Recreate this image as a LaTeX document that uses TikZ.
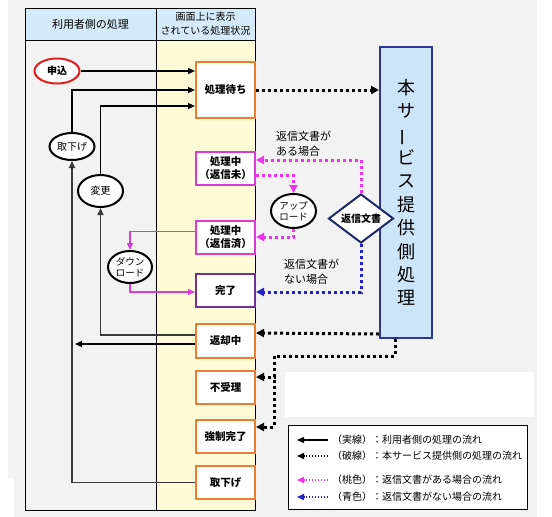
\documentclass[tikz,border=0pt]{standalone}
\usepackage{fontspec}
\usepackage{graphicx}
\setmainfont{Noto Sans CJK JP}
\usetikzlibrary{shapes.geometric,arrows.meta,calc}
\definecolor{bggrey}{HTML}{F2F2F2}
\definecolor{colyellow}{HTML}{FFFBD6}
\definecolor{hdrblue}{HTML}{D5EAF8}
\definecolor{orangeb}{HTML}{ED7D31}
\definecolor{magb}{HTML}{D93BD9}
\definecolor{pinkd}{HTML}{EE33EE}
\definecolor{purpleb}{HTML}{7030A0}
\definecolor{blued}{HTML}{2222C8}
\definecolor{svcfill}{HTML}{CCE5F8}
\definecolor{svcdraw}{HTML}{2F3699}
\definecolor{navy}{HTML}{1F2A6B}
\definecolor{redb}{HTML}{E02020}
\definecolor{lineg}{HTML}{3A3A3A}
\begin{document}
\begin{tikzpicture}[x=1pt,y=-1pt,
  statebox/.style={draw, line width=2pt, fill=white, minimum width=59pt, minimum height=33pt, inner sep=0pt, align=center, font=\fontsize{10.5}{13}\selectfont\bfseries},
  oval/.style={ellipse, draw, line width=2pt, fill=white, minimum width=45pt, minimum height=30pt, inner sep=0pt, align=center, font=\fontsize{10}{11.5}\selectfont},
  solidarr/.style={lineg, line width=1.5pt, -{Triangle[length=7pt,width=6pt]}},
  thinarr/.style={black, line width=1.2pt, -{Triangle[length=7pt,width=6pt]}},
  magarr/.style={magb, line width=1.5pt, -{Triangle[length=7pt,width=6pt]}},
  dotbase/.style={line width=3pt, dash pattern=on 3pt off 3pt},
  dotblack/.style={dotbase, black, -{Triangle[length=8pt,width=8pt]}},
  dotblackln/.style={dotbase, black},
  dotpink/.style={dotbase, pinkd, -{Triangle[length=8pt,width=8pt]}},
  dotblue/.style={dotbase, blued, -{Triangle[length=8pt,width=8pt]}},
  lbl/.style={align=left, inner sep=0pt, font=\fontsize{11}{15}\selectfont},
  legtxt/.style={anchor=west, inner sep=0pt, font=\fontsize{10}{12}\selectfont},
  legsolid/.style={black, line width=1.2pt, -{Triangle[length=7pt,width=6pt]}},
  legdot/.style={line width=1.5pt, dash pattern=on 1.5pt off 1.5pt, -{Triangle[length=7pt,width=6pt]}}
]
\useasboundingbox (0,0) rectangle (552,517);
\fill[bggrey] (8,0) rectangle (537,517);
\fill[white] (0,478) rectangle (14,517);
% table
\fill[bggrey] (25,40) rectangle (156,510);
\fill[colyellow] (156,40) rectangle (255,510);
\fill[hdrblue] (25,8) rectangle (255,40);
\draw[line width=1pt] (25,8) rectangle (255,510);
\draw[line width=1pt] (25,40) -- (255,40);
\draw[line width=1pt] (156,8) -- (156,510);
\node[font=\fontsize{11}{13}\selectfont] (h1) at (90.5,24) {利用者側の処理};
\node[font=\fontsize{10}{14}\selectfont, align=center] (h2) at (205.5,24) {画面上に表示\\されている処理状況};

% state boxes
\node[statebox, draw=orangeb, minimum height=56pt] (wait) at (225.5,90) {処理待ち};
\node[statebox, draw=magb] (mi) at (225.5,168.5) {処理中\\（返信未）};
\node[statebox, draw=magb] (zumi) at (225.5,237.5) {処理中\\（返信済）};
\node[statebox, draw=purpleb] (kanryo) at (225.5,290.5) {完了};
\node[statebox, draw=orangeb, minimum height=34pt] (henkyaku) at (225.5,341) {返却中};
\node[statebox, draw=orangeb] (fuju) at (225.5,387.5) {不受理};
\node[statebox, draw=orangeb] (kyosei) at (225.5,436.5) {強制完了};
\node[statebox, draw=orangeb] (tbox) at (225.5,482.5) {取下げ};

% user side ovals
\node[oval, draw=redb, minimum width=45pt, minimum height=25pt, font=\fontsize{10}{12}\selectfont\bfseries] (moshi) at (57,71) {申込};
\node[oval, minimum height=27pt] (tell) at (72,146.5) {取下げ};
\node[oval, minimum height=32pt] (henko) at (100.5,191) {変更};
\node[oval, minimum width=44pt, minimum height=32pt, font=\fontsize{9.5}{11}\selectfont] (dl) at (130,267) {ダウン\\ロード};

% solid connectors
\draw[thinarr] (moshi.east) -- (moshi.east -| wait.west);
\draw[thinarr] (tell.north) |- (wait.west);
\draw[thinarr] (henko.north) |- ($(wait.west)+(0,16)$);
\draw[solidarr] (tbox.west) -| (tell.south);
\draw[solidarr] ($(henkyaku.west)+(0,-6)$) -| (henko.south);
\coordinate (hkend) at (75,344);
\draw[thinarr] ($(henkyaku.west)+(0,3)$) -- (hkend);
\draw[magarr] ($(zumi.west)+(0,-6)$) -| (dl.north);
\draw[magarr] (dl.south) |- ($(kanryo.west)+(0,1.5)$);

% service side
\node[draw=svcdraw, fill=svcfill, line width=2pt, minimum width=52pt, minimum height=291pt, inner sep=0pt, align=center, font=\fontsize{18}{23.4}\selectfont] (svc) at (406,192.5) {本\\サ\\\rotatebox[origin=c]{90}{ー}\\ビ\\ス\\提\\供\\側\\処\\理};
\node[diamond, draw=navy, line width=2pt, fill=white, minimum width=65pt, minimum height=49pt, aspect=1.33, inner sep=0pt, font=\fontsize{10}{12}\selectfont\bfseries] (dia) at (361,218.5) {返信文書};
\node[oval, minimum width=45pt, minimum height=34pt, font=\fontsize{9.5}{11}\selectfont] (up) at (293.5,211) {アップ\\ロード};

\draw[dotblack] (wait.east) -- (wait.east -| svc.west);
\draw[dotpink] (dia.north) |- ($(mi.east)+(0,-8.5)$);
\draw[dotpink] ($(mi.east)+(0,6.5)$) -| (up.north);
\draw[dotpink] (up.south) |- ($(zumi.east)+(0,-0.5)$);
\draw[dotblue] (dia.south) |- ($(kanryo.east)+(0,1.5)$);
\node[lbl, anchor=west] (lblA) at (276,143.5) {返信文書が\\ある場合};
\node[lbl, anchor=west] (lblB) at (284,271.5) {返信文書が\\ない場合};

\draw[dotblack] ($(svc.south west)+(0,-5)$) -- ($(henkyaku.east)+(0,-8)$);
\coordinate (j1) at (274,356);
\draw[dotblackln] ($(svc.south)+(-11,0)$) |- (j1);
\draw[dotblack] (j1) |- ($(fuju.east)+(0,-10.5)$);
\draw[dotblack] (j1) |- ($(kyosei.east)+(0,-9.5)$);

% white patch and legend
\fill[white] (285,372) rectangle (534,417);
\node[draw, line width=1pt, fill=white, minimum width=239pt, minimum height=84pt, inner sep=0pt] (legend) at (407.5,467) {};
\node[legtxt] (l1) at (332,440) {（実線）：利用者側の処理の流れ};
\node[legtxt] (l2) at (332,456) {（破線）：本サービス提供側の処理の流れ};
\node[legtxt] (l3) at (332,480) {（桃色）：返信文書がある場合の流れ};
\node[legtxt] (l4) at (332,497) {（青色）：返信文書がない場合の流れ};
\coordinate (e1) at (297,440);
\coordinate (e2) at (297,456);
\coordinate (e3) at (297,480);
\coordinate (e4) at (297,497);
\draw[legsolid] ($(l1.west)+(-4,0)$) -- (e1);
\draw[legdot, black] ($(l2.west)+(-4,0)$) -- (e2);
\draw[legdot, pinkd] ($(l3.west)+(-4,0)$) -- (e3);
\draw[legdot, blued] ($(l4.west)+(-4,0)$) -- (e4);
\end{tikzpicture}
\end{document}
